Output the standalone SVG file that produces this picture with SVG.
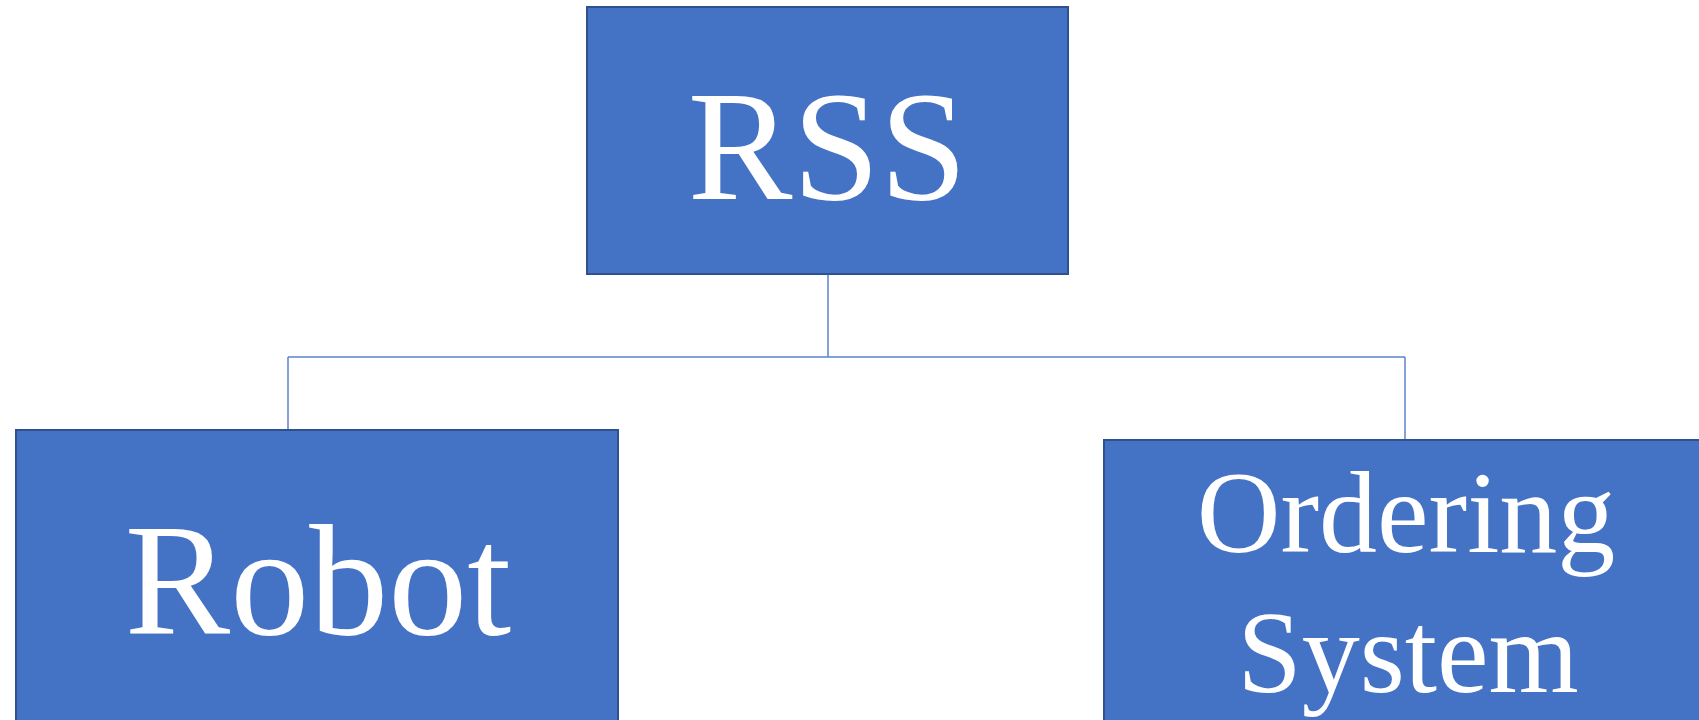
<svg xmlns="http://www.w3.org/2000/svg" width="1699" height="720" viewBox="0 0 1699 720">
<style>
.box{fill:#4472C4;stroke:#2F528F;stroke-width:2}
.lbl{fill:#FFFFFF;font-family:"Liberation Serif","Times New Roman",serif;text-anchor:middle}
.conn{fill:none;stroke:#5B84CF;stroke-width:1.5}
</style>
<rect width="1699" height="720" fill="#FFFFFF"/>
<g id="connectors">
<path class="conn" d="M828,274 V357 M288,357 H1405 M288,357 V430 M1405,357 V440"/>
</g>
<g id="node-rss">
<rect class="box" x="587" y="7" width="481" height="267"/>
<text class="lbl" x="827.5" y="199" font-size="157">RSS</text>
</g>
<g id="node-robot">
<rect class="box" x="16" y="430" width="602" height="300"/>
<text class="lbl" x="318" y="634" font-size="158">Robot</text>
</g>
<g id="node-ordering">
<rect class="box" x="1104" y="440" width="602" height="290"/>
<text class="lbl" x="1406" y="552" font-size="116">Ordering</text>
<text class="lbl" x="1408" y="692" font-size="116">System</text>
</g>
</svg>
